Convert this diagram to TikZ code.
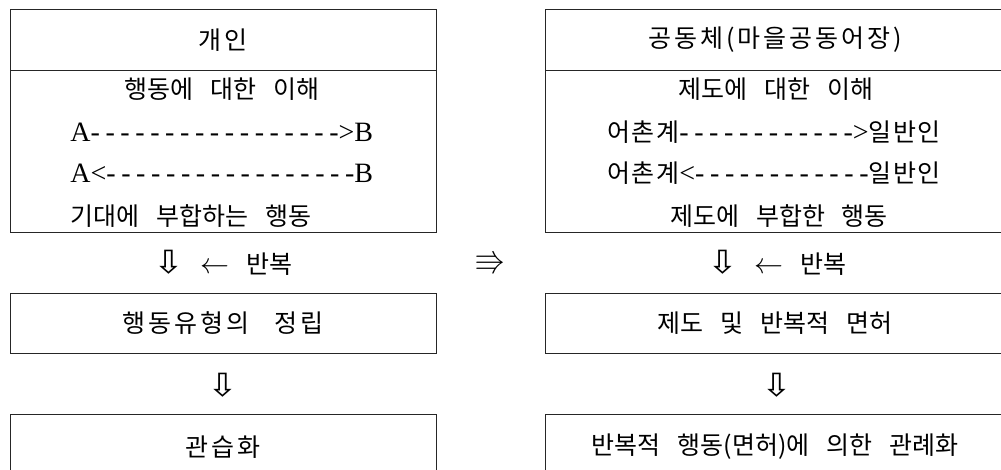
\documentclass[tikz,border=0pt]{standalone}
\usepackage{fontspec}
\usepackage{amssymb}
\usepackage{graphicx}
\setmainfont{Liberation Serif}[Ligatures=TeXOff]
\newfontfamily\cjk{Noto Sans CJK KR}[WordSpace=3]
\newfontfamily\dashfont{Liberation Serif}[Ligatures=TeXOff,LetterSpace=20]
\newfontfamily\symb{DejaVu Sans}
\usetikzlibrary{positioning}

% Korean words inside the latin lines
\newcommand{\kr}[1]{{\cjk\fontsize{25}{29}\selectfont\addfontfeature{LetterSpace=6}#1}}
% white down arrow, thin left arrow, triple right arrow
\newcommand{\dn}{\scalebox{1.15}[1]{\symb\fontsize{32}{34}\selectfont ⇩}}
\newcommand{\lt}{\resizebox{29pt}{!}{$\leftarrow$}}
\newcommand{\rrr}{\resizebox{31pt}{!}{$\Rrightarrow$}}

\begin{document}
\begin{tikzpicture}[
  x = 1pt, y = -1pt,           % one unit is one pixel, y runs down
  inner sep = 0pt,
  line width = 0.8pt           % thin box lines
  ]

  \tikzstyle{B1}=[      % Defines style for Box
  draw = black!85,
  rectangle
  ]

  \tikzstyle{T1}=[      % Defines style for Korean text
  font = \cjk\fontsize{25}{29}\selectfont
  ]

  \tikzstyle{T1w}=[     % Korean text, spaced out
  font = \cjk\fontsize{25}{29}\selectfont\addfontfeature{LetterSpace=12}
  ]

  \tikzstyle{T2}=[      % Defines style for the A/B lines
  font = \fontsize{28}{32}\selectfont
  ]

  \useasboundingbox (0,0) rectangle (1001,470);
  \clip (0,0) rectangle (1001,470);

  % Left column: individual
  \node[B1, T1w, minimum width = 426, minimum height = 60.5] (lhead) at (223,39.75) {개인};
  \node[B1, minimum width = 426, minimum height = 162] (lbody) [below = 0pt of lhead] {};
  \node[T1] (lt1) at (222,89) {행동에 대한 이해};
  \node[T2, anchor = west] (lt2) at (70,132) {A{\dashfont -----------------}>B};
  \node[T2, anchor = west] (lt3) at (70,173) {A<{\dashfont -----------------}B};
  \node[T1, anchor = west] (lt4) at (70,216) {기대에 부합하는 행동};

  \node[T1] (lrep) at (223,263) {\dn{} \lt{} 반복};
  \node[B1, T1w, minimum width = 426, minimum height = 60] (lpat) at (223,323) {행동유형의 정립};
  \node[T1] (ldown) at (223,385) {\dn};
  \node[B1, T1w, minimum width = 426, minimum height = 66] (lhab) at (223,447) {관습화};

  % Middle
  \node (link) at (490,263) {\rrr};

  % Right column: community
  \node[B1, T1w, minimum width = 460, minimum height = 60.5] (rhead) at (775,39.75) {공동체(마을공동어장)};
  \node[B1, minimum width = 460, minimum height = 162] (rbody) [below = 0pt of rhead] {};
  \node[T1] (rt1) at (776,89) {제도에 대한 이해};
  \node[T2] (rt2) at (774,132) {\kr{어촌계}{\dashfont ------------}>\kr{일반인}};
  \node[T2] (rt3) at (774,173) {\kr{어촌계}<{\dashfont ------------}\kr{일반인}};
  \node[T1] (rt4) at (779,216) {제도에 부합한 행동};

  \node[T1] (rrep) at (777,263) {\dn{} \lt{} 반복};
  \node[B1, T1, minimum width = 460, minimum height = 60] (rpat) at (775,323) {제도 및 반복적 면허};
  \node[T1] (rdown) at (777,385) {\dn};
  \node[B1, T1, minimum width = 460, minimum height = 66] (rhab) at (775,447) {반복적 행동(면허)에 의한 관례화};
\end{tikzpicture}
\end{document}
